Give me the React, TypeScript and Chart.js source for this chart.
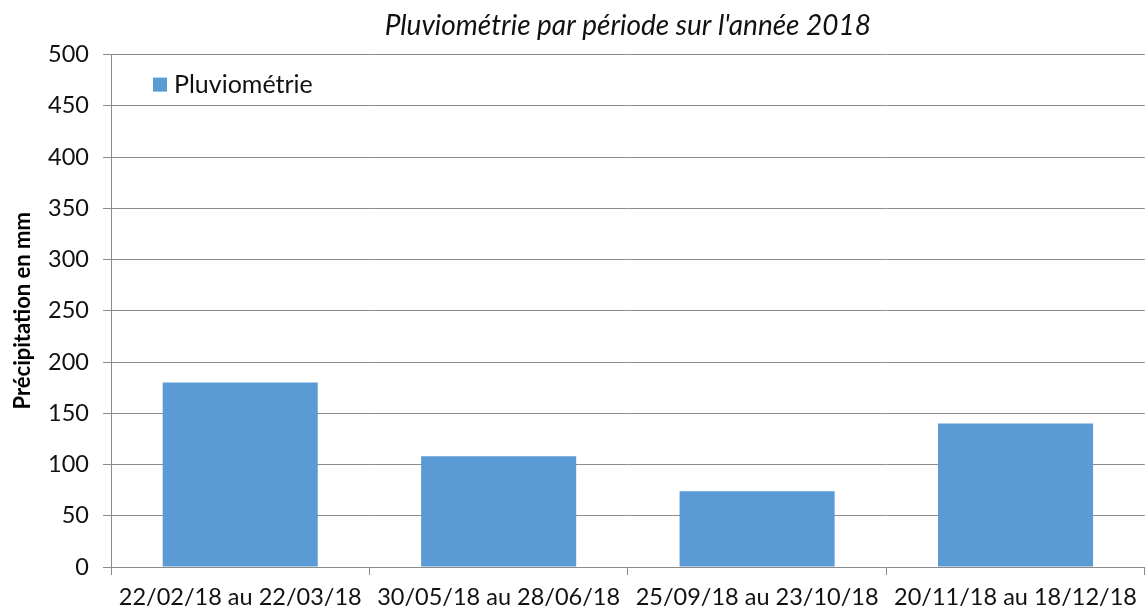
import React, { useEffect, useRef } from "react";
import { Chart, registerables } from "chart.js";

Chart.register(...registerables);

const categories = [
  "22/02/18 au 22/03/18",
  "30/05/18 au 28/06/18",
  "25/09/18 au 23/10/18",
  "20/11/18 au 18/12/18",
];
const seriesLabel = "Pluviométrie";
const pluviometrie = [180, 108, 74, 140];
const chartTitle = "Pluviométrie par période sur l'année 2018";
const yAxisTitle = "Précipitation en mm";
const yMin = 0;
const yMax = 500;
const yStep = 50;

const FONT = "Lato, 'Liberation Sans', sans-serif";
const BAR = "#5B9BD5";
const GRID = "#8c8c8c";

const insideLegend = {
  id: "insideLegend",
  afterDraw(chart: any) {
    const { ctx, chartArea } = chart;
    const ds = chart.data.datasets[0];
    const x = chartArea.left + 42;
    const y = chartArea.top + 30;
    ctx.save();
    ctx.fillStyle = ds.backgroundColor;
    ctx.fillRect(x, y - 7, 14, 14);
    ctx.fillStyle = "#111";
    ctx.font = `25px ${FONT}`;
    ctx.textBaseline = "middle";
    ctx.textAlign = "left";
    ctx.fillText(ds.label, x + 21, y);
    ctx.restore();
  },
};

export default function App() {
  const ref = useRef<HTMLCanvasElement | null>(null);
  useEffect(() => {
    if (!ref.current) return;
    const chart = new Chart(ref.current, {
      type: "bar",
      data: {
        labels: categories,
        datasets: [
          {
            label: seriesLabel,
            data: pluviometrie,
            backgroundColor: BAR,
            borderWidth: 0,
            barPercentage: 0.6,
            categoryPercentage: 1,
          },
        ],
      },
      options: {
        responsive: false,
        animation: false,
        layout: { padding: { left: 0, right: 0, top: 0, bottom: 0 } },
        plugins: {
          legend: { display: false },
          tooltip: { enabled: false },
          title: {
            display: true,
            text: chartTitle,
            fullSize: false,
            color: "#111",
            font: { family: FONT, size: 28, style: "italic", weight: "normal", lineHeight: 1.2 },
            padding: { top: 9, bottom: 12 },
          },
        },
        scales: {
          x: {
            offset: true,
            grid: {
              offset: true,
              drawOnChartArea: false,
              drawTicks: true,
              tickLength: 8,
              color: GRID,
            },
            border: { color: GRID },
            ticks: {
              color: "#111",
              padding: 8,
              maxRotation: 0,
              autoSkip: false,
              font: { family: FONT, size: 23.5 },
            },
            afterFit(scale: any) {
              scale.height = 47;
            },
          },
          y: {
            min: yMin,
            max: yMax,
            ticks: {
              stepSize: yStep,
              color: "#111",
              padding: 14,
              font: { family: FONT, size: 23.5 },
            },
            grid: { color: GRID, tickLength: 8 },
            border: { color: GRID },
            title: {
              display: true,
              text: yAxisTitle,
              color: "#000",
              font: { family: FONT, size: 22, weight: "bold" },
              padding: { top: 10, bottom: 4 },
            },
            afterFit(scale: any) {
              scale.width = 111;
            },
          },
        },
      },
      plugins: [insideLegend],
    });
    return () => chart.destroy();
  }, []);
  return (
    <div style={{ position: "fixed", left: 0, top: 0, width: 1145, height: 614, background: "#fff" }}>
      <canvas ref={ref} width={1145} height={614} style={{ display: "block" }} />
    </div>
  );
}
